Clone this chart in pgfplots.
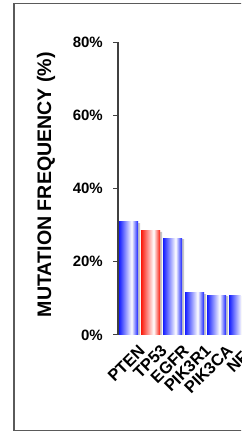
\documentclass[border=0pt]{standalone}
\usepackage{pgfplots}
\pgfplotsset{compat=1.18}
\usepackage{fontspec}
\setmainfont{Liberation Sans}
\definecolor{barblue}{RGB}{20,30,255}
\definecolor{barred}{RGB}{250,25,10}
\definecolor{framegray}{RGB}{90,90,90}
\pgfdeclarehorizontalshading{bluebar}{100bp}{color(0bp)=(barblue); color(25bp)=(barblue); color(58bp)=(white); color(75bp)=(barblue); color(100bp)=(barblue)}
\pgfdeclarehorizontalshading{redbar}{100bp}{color(0bp)=(barred); color(25bp)=(barred); color(58bp)=(white); color(75bp)=(barred); color(100bp)=(barred)}
\pgfplotsset{
  bluebar/.style={ybar, bar width=19pt, bar shift=0pt, draw=none, shade, shading=bluebar},
  redbar/.style={ybar, bar width=19pt, bar shift=0pt, draw=none, shade, shading=redbar},
}
\begin{document}
\begin{tikzpicture}
\path[use as bounding box] (0pt,0pt) rectangle (241pt,433pt);
\clip (0pt,0pt) rectangle (241pt,433pt);
\draw[line width=1.6pt, framegray] (13.8pt,2.6pt) rectangle (270pt,429.6pt);
\begin{axis}[
  at={(118pt,98pt)}, anchor=south west,
  scale only axis,
  x=22pt, y=3.659pt,
  xmin=-0.48, xmax=6.52,
  ymin=0, ymax=80,
  axis lines*=left,
  x axis line style={draw=none},
  y axis line style={black!75, line width=1.4pt},
  xtick={0,1,2,3,4,5},
  xticklabels={PTEN,TP53,EGFR,PIK3R1,PIK3CA,NF1},
  xtick style={draw=none},
  ytick={0,20,40,60,80},
  yticklabels={0\%,20\%,40\%,60\%,80\%},
  ytick style={black!75, line width=1pt},
  tick align=outside,
  major tick length=5pt,
  yticklabel style={font=\bfseries\fontsize{15}{15}\selectfont, anchor=east, inner sep=0pt, xshift=-10pt},
  xticklabel style={font=\bfseries\fontsize{16.5}{16.5}\selectfont, rotate=45, anchor=north east, inner sep=1pt, xshift=5pt, yshift=-8pt},
  ylabel={MUTATION FREQUENCY (\%)},
  ylabel style={font=\bfseries\fontsize{19.6}{19.6}\selectfont, at={(axis description cs:-0.4675,0.514)}, anchor=center, rotate=0},
  clip=false,
]
\addplot[ybar, bar width=19pt, bar shift=2pt, fill=black!22, draw=none] coordinates {(0,30.6) (1,28.2) (2,26.2) (3,11.2) (4,10.6) (5,10.6)};
\addplot[bluebar] coordinates {(0,30.9)};
\addplot[redbar] coordinates {(1,28.5)};
\addplot[bluebar] coordinates {(2,26.5)};
\addplot[bluebar] coordinates {(3,11.5)};
\addplot[bluebar] coordinates {(4,10.9)};
\addplot[bluebar] coordinates {(5,10.9)};
\end{axis}
\end{tikzpicture}
\end{document}
